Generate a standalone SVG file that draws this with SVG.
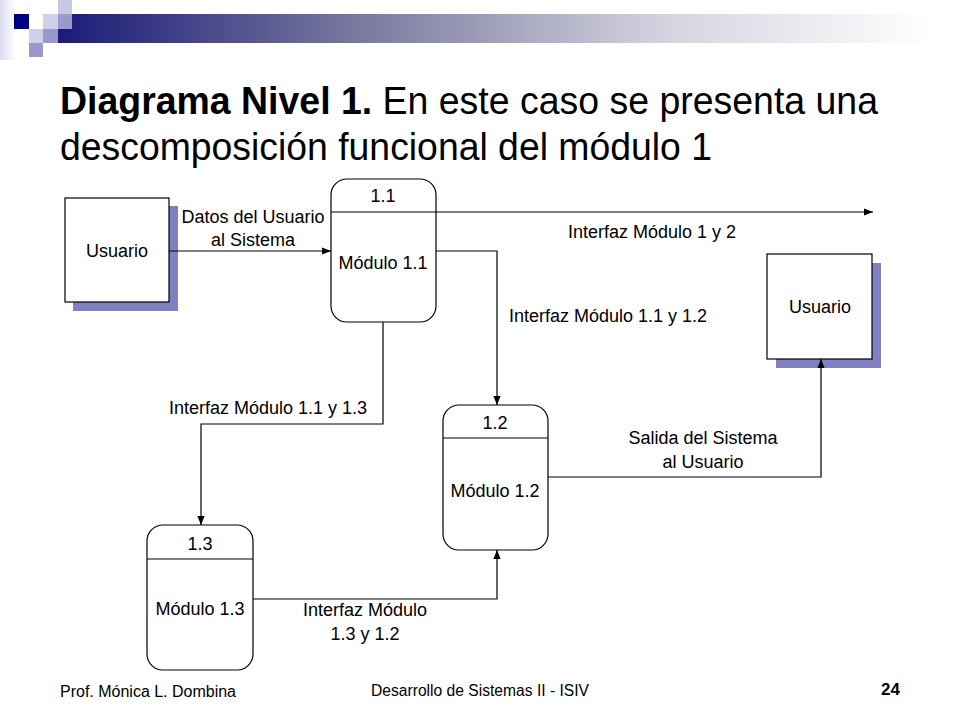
<svg xmlns="http://www.w3.org/2000/svg" width="960" height="720" viewBox="0 0 960 720">
<defs>
  <linearGradient id="bar" x1="0" y1="0" x2="1" y2="0">
    <stop offset="0" stop-color="#1a1a78"/>
    <stop offset="0.35" stop-color="#7a7aa0"/>
    <stop offset="0.7" stop-color="#d4d4e0"/>
    <stop offset="1" stop-color="#ffffff"/>
  </linearGradient>
  <linearGradient id="side" x1="0" y1="0" x2="1" y2="0">
    <stop offset="0" stop-color="#dcdcf0"/>
    <stop offset="1" stop-color="#ffffff"/>
  </linearGradient>
  <marker id="arr" viewBox="0 0 10 10" refX="10" refY="5" markerWidth="9" markerHeight="9" markerUnits="userSpaceOnUse" orient="auto">
    <path d="M0,1 L10,5 L0,9 z" fill="#000"/>
  </marker>
</defs>
<style>
  .t{font-family:"Liberation Sans",Arial,sans-serif;fill:#000;}
  .lbl{font-size:18px;text-anchor:middle;}
  .box{fill:#fff;stroke:#000;stroke-width:1.2;}
  .shadow{fill:#8080c0;}
  .proc{fill:#fff;stroke:#000;stroke-width:1.2;}
  .div{stroke:#000;stroke-width:1.2;}
  .conn{fill:none;stroke:#000;stroke-width:1.2;}
</style>
<rect width="960" height="720" fill="#fff"/>
<g id="decoration">
  <rect x="0" y="0" width="16" height="60" fill="url(#side)"/>
  <rect x="57" y="14" width="873" height="29" fill="url(#bar)"/>
  <rect x="58" y="0" width="14" height="14" fill="#c8c8e4"/>
  <rect x="14" y="14" width="15" height="15" fill="#000080"/>
  <rect x="43" y="14" width="15" height="15" fill="#d0d0ea"/>
  <rect x="58" y="14" width="14" height="15" fill="#9999cc"/>
  <rect x="29" y="29" width="14" height="14" fill="#d0d0ea"/>
  <rect x="43" y="29" width="15" height="14" fill="#9999cc"/>
  <rect x="29" y="43" width="14" height="14" fill="#9999cc"/>
</g>
<g id="title" class="t" font-size="38">
  <text x="60" y="114" textLength="818" lengthAdjust="spacingAndGlyphs"><tspan font-weight="bold">Diagrama Nivel 1.</tspan> En este caso se presenta una</text>
  <text x="60" y="160" textLength="652" lengthAdjust="spacingAndGlyphs">descomposición funcional del módulo 1</text>
</g>
<g id="usuario1">
  <rect class="shadow" x="73" y="206" width="105" height="105"/>
  <rect class="box" x="65" y="198" width="104" height="104"/>
  <text class="t lbl" x="117" y="257">Usuario</text>
</g>
<g id="usuario2">
  <rect class="shadow" x="776" y="263" width="105" height="105"/>
  <rect class="box" x="767" y="254" width="105" height="105"/>
  <text class="t lbl" x="820" y="313">Usuario</text>
</g>
<g id="modulo11">
  <rect class="proc" x="331" y="179" width="105" height="143" rx="16" ry="16"/>
  <line class="div" x1="331" y1="212" x2="436" y2="212"/>
  <text class="t lbl" x="383" y="202">1.1</text>
  <text class="t lbl" x="383" y="269">Módulo 1.1</text>
</g>
<g id="modulo12">
  <rect class="proc" x="443" y="405" width="105" height="145" rx="16" ry="16"/>
  <line class="div" x1="443" y1="438" x2="548" y2="438"/>
  <text class="t lbl" x="495" y="429">1.2</text>
  <text class="t lbl" x="495" y="497">Módulo 1.2</text>
</g>
<g id="modulo13">
  <rect class="proc" x="147" y="525" width="106" height="145" rx="16" ry="16"/>
  <line class="div" x1="147" y1="559" x2="253" y2="559"/>
  <text class="t lbl" x="200" y="550">1.3</text>
  <text class="t lbl" x="200" y="615">Módulo 1.3</text>
</g>
<g id="connectors">
  <line class="conn" x1="169" y1="251" x2="331" y2="251" marker-end="url(#arr)"/>
  <line class="conn" x1="436" y1="212" x2="873" y2="212" marker-end="url(#arr)"/>
  <polyline class="conn" points="436,251 497,251 497,405" marker-end="url(#arr)"/>
  <polyline class="conn" points="383,322 383,424 201,424 201,525" marker-end="url(#arr)"/>
  <polyline class="conn" points="253,599 497,599 497,550" marker-end="url(#arr)"/>
  <polyline class="conn" points="548,477 821,477 821,359" marker-end="url(#arr)"/>
  <g class="t lbl">
    <text x="253" y="223">Datos del Usuario</text>
    <text x="253" y="246">al Sistema</text>
    <text x="652" y="238">Interfaz Módulo 1 y 2</text>
    <text x="608" y="322">Interfaz Módulo 1.1 y 1.2</text>
    <text x="268" y="414">Interfaz Módulo 1.1 y 1.3</text>
    <text x="703" y="444">Salida del Sistema</text>
    <text x="703" y="468">al Usuario</text>
    <text x="365" y="616">Interfaz Módulo</text>
    <text x="365" y="640">1.3 y 1.2</text>
  </g>
</g>
<g id="footer" class="t" font-size="16">
  <text x="60" y="697" textLength="176" lengthAdjust="spacingAndGlyphs">Prof. Mónica L. Dombina</text>
  <text x="371" y="696" textLength="218" lengthAdjust="spacingAndGlyphs">Desarrollo de Sistemas II - ISIV</text>
  <text x="900" y="695" text-anchor="end" font-weight="bold" font-size="17">24</text>
</g>
</svg>
